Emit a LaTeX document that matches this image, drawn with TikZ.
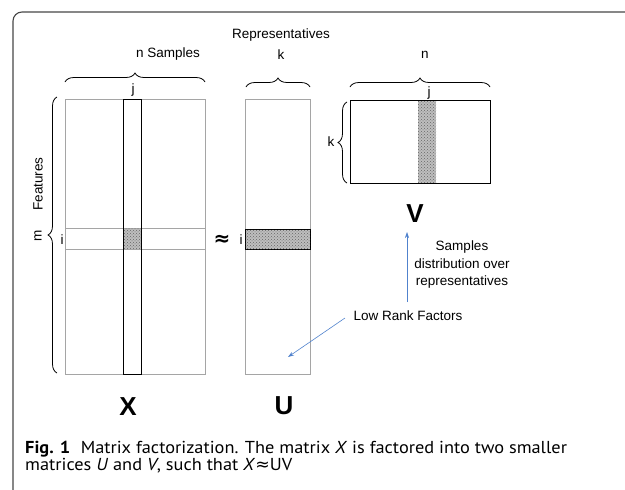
\documentclass[tikz,border=0pt]{standalone}
\usepackage{fontspec}
\setmainfont{Liberation Sans}
\newfontfamily\capfont[FakeStretch=1.06]{PT Sans}
\newfontfamily\symfont{DejaVu Sans}
\usetikzlibrary{decorations.pathreplacing,arrows.meta,patterns}
\definecolor{framec}{RGB}{70,70,70}
\definecolor{arrowc}{RGB}{80,130,205}
\definecolor{matgray}{RGB}{165,165,165}
\definecolor{shadec}{RGB}{190,190,190}
\begin{document}
\begin{tikzpicture}[x=1pt,y=-1pt,
  lab/.style={font=\fontsize{13.5}{17.5}\selectfont, inner sep=0pt},
  big/.style={font=\fontsize{26}{30}\selectfont\bfseries, inner sep=0pt},
  graymat/.style={draw=matgray, line width=0.9pt, inner sep=0pt, outer sep=0pt},
  blackbox/.style={draw=black, line width=0.9pt, inner sep=0pt, outer sep=0pt},
  shadebox/.style={fill=shadec, postaction={pattern=crosshatch dots, pattern color=gray!80!black}, inner sep=0pt, outer sep=0pt},
  bracepath/.style={decorate, decoration={brace, amplitude=9pt}, line width=0.8pt},
  bluearrow/.style={draw=arrowc, line width=0.6pt, -{Stealth[length=6pt,width=4pt]}},
  capline/.style={anchor=base west, inner sep=0pt, font=\capfont\fontsize{17.3}{19}\selectfont}
]
\useasboundingbox (0,0) rectangle (625,490);
% frame
\draw[framec, line width=1.1pt, rounded corners=9pt] (13,492) -- (13,12) -- (627,12);

% matrix X
\node[graymat, minimum width=140pt, minimum height=275pt] (X) at (135,236.5) {};
\node[graymat, minimum width=140pt, minimum height=21pt] (Xrow) at (135,238.5) {};
\node[shadebox, minimum width=17.5pt, minimum height=20pt] (Xcell) at (132.25,238.5) {};
\node[blackbox, minimum width=17.5pt, minimum height=275pt] (Xcol) at (132.25,236.5) {};

% matrix U
\node[graymat, minimum width=65pt, minimum height=275pt] (U) at (277.5,236.5) {};
\node[shadebox, blackbox, minimum width=65pt, minimum height=20pt] (Urow) at (277.5,239) {};

% matrix V
\node[shadebox, minimum width=18pt, minimum height=83pt] (Vcol) at (427,141.5) {};
\node[blackbox, minimum width=140pt, minimum height=83pt] (V) at (420,141.5) {};

% braces
\draw[bracepath] (65,82) -- (205,82);
\draw[bracepath] (246,87) -- (310,87);
\draw[bracepath] (350,87) -- (490,87);
\draw[bracepath] (57,373) -- (57,97);
\draw[bracepath] (347,183) -- (347,102);

% labels
\node[lab] (nsamples) at (168,54) {n Samples};
\node[lab] (reps) at (281,35) {Representatives};
\node[lab] (kU) at (281,55) {k};
\node[lab] (nV) at (425,55) {n};
\node[lab] (jX) at (133,90) {j};
\node[lab] (jV) at (429,93) {j};
\node[lab] (iX) at (62,240) {i};
\node[lab] (iU) at (241,240) {i};
\node[lab] (kV) at (331,142) {k};
\node[lab, rotate=90] (mX) at (38,236) {m};
\node[lab, rotate=90] (feat) at (38,184) {Features};
\node[font=\symfont\fontsize{20}{22}\selectfont\bfseries, inner sep=0pt] (approx) at (222,240) {≈};

\node[big] (Xl) at (128,407) {X};
\node[big] (Ul) at (284,406) {U};
\node[big] (Vl) at (415,214) {V};

\node[lab, align=center] (dist) at (462,265) {Samples\\distribution over\\representatives};
\node[lab] (lowrank) at (408,316) {Low Rank Factors};

% arrows
\coordinate (a1s) at (407,302);
\coordinate (a1e) at (407,232);
\coordinate (a2s) at (345,318);
\coordinate (a2e) at (288,357);
\draw[bluearrow] (a1s) -- (a1e);
\draw[bluearrow] (a2s) -- (a2e);

% caption
\node[capline] (cap1) at (25,453.5) {\textbf{Fig. 1}\hspace{0.6em}Matrix factorization. The matrix \textit{X} is factored into two smaller};
\node[capline] (cap2) at (25,470.5) {matrices \textit{U} and \textit{V}, such that \textit{X}{\symfont ≈}UV};
\end{tikzpicture}
\end{document}
